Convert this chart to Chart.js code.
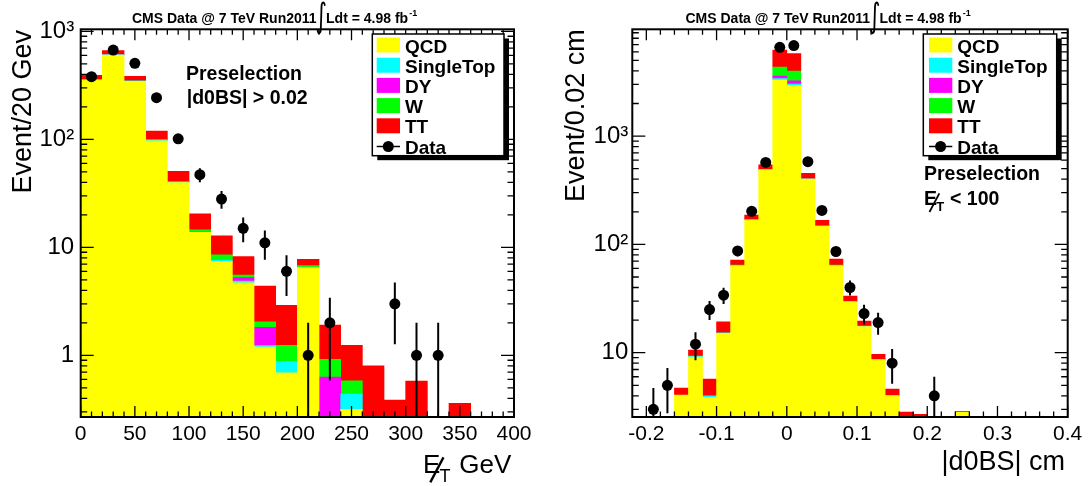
<!DOCTYPE html>
<html>
<head>
<meta charset="utf-8">
<title>CMS stacked histograms</title>
<script src="https://cdn.jsdelivr.net/npm/chart.js@4.4.1/dist/chart.umd.min.js"></script>
<style>
  html, body { margin:0; padding:0; background:#fff; }
  body { width:1089px; height:486px; position:relative; overflow:hidden; }
  canvas { position:absolute; top:0; }
  #left { left:0; }
  #right { left:544px; }
</style>
</head>
<body>
<canvas id="left" width="544" height="486"></canvas>
<canvas id="right" width="545" height="486"></canvas>
<script>
// ================= DATA =================
const seriesNames = ['QCD', 'SingleTop', 'DY', 'W', 'TT'];
const dataName = 'Data';

// ---- Left panel: missing ET, 20 GeV bins ----
const metCenters   = [10, 30, 50, 70, 90, 110, 130, 150, 170, 190, 210, 230, 250, 270, 290, 310, 330, 350, 370, 390];
const metQCD       = [354, 604, 344, 97, 39.7, 13.8, 7.37, 4.68, 1.19, 0.69, 6.5, 0, 0.316, 0, 0, 0, 0, 0, 0, 0];
const metSingleTop = [1.5, 2, 1.5, 1.2, 0.4, 0.15, 0.3, 0.2, 0.04, 0.19, 0, 0, 0.122, 0, 0, 0, 0, 0, 0, 0];
const metDY        = [1, 1.5, 1, 0.4, 0.3, 0.15, 0.05, 0.36, 0.59, 0, 0, 0.63, 0, 0, 0, 0, 0, 0, 0, 0];
const metW         = [1.5, 2.5, 2, 0.8, 0.4, 0.4, 0.78, 0.3, 0.22, 0.36, 0.27, 0.29, 0.144, 0, 0, 0, 0, 0, 0, 0];
const metTT        = [33, 52, 34.5, 19.6, 9.7, 5.9, 4.3, 2.66, 2.34, 1.66, 0.97, 0.99, 0.658, 0.8, 0.386, 0.578, 0, 0.36, 0, 0];
const metData      = [380, 670, 506, 243, 101, 47, 28, 15, 11, 6, 1, 2, 0, 0, 3, 1, 1, 0, 0, 0];
const metXTickValues = [0, 50, 100, 150, 200, 250, 300, 350, 400];
const metXTickLabels = ['0', '50', '100', '150', '200', '250', '300', '350', '400'];
const metYTickValues = [1, 10, 100, 1000];
const metYTickLabels = ['1', '10', '10\u00B2', '10\u00B3'];

// ---- Right panel: d0BS, 0.02 cm bins ----
const d0Centers   = [-0.21, -0.19, -0.17, -0.15, -0.13, -0.11, -0.09, -0.07, -0.05, -0.03, -0.01, 0.01, 0.03, 0.05, 0.07, 0.09, 0.11, 0.13, 0.15, 0.17, 0.19, 0.21, 0.23, 0.25, 0.27, 0.29, 0.31, 0.33, 0.35, 0.37, 0.39];
const d0QCD       = [0, 0, 0, 4.07, 9.1, 3.87, 15.1, 63.5, 168, 488, 3290, 2920, 400, 147, 63.5, 29.5, 17.4, 8.6, 4.0, 2.0, 2.0, 0, 0, 2.83, 0, 0, 0, 0, 0, 0, 0];
const d0SingleTop = [0, 0, 0, 0, 0.2, 0.13, 0.2, 0.5, 1, 2, 110, 100, 2, 1, 0.5, 0.3, 0.2, 0.07, 0.04, 0, 0, 0, 0, 0, 0, 0, 0, 0, 0, 0, 0];
const d0DY        = [0, 0, 0, 0, 0, 0, 0, 0.2, 0.5, 1, 180, 220, 1, 0.5, 0.2, 0, 0, 0, 0, 0, 0, 0, 0, 0, 0, 0, 0, 0, 0, 0, 0];
const d0W         = [0, 0, 0, 0, 0, 0, 0, 0.2, 0.5, 2, 750, 740, 1, 0.5, 0.3, 0, 0, 0, 0, 0, 0, 0, 0, 0, 0, 0, 0, 0, 0, 0, 0];
const d0TT        = [0, 0, 0, 0.65, 1.3, 1.72, 4.0, 7.2, 17, 50, 1890, 1810, 48, 18, 8.8, 3.5, 2.0, 1.0, 0.58, 0.83, 0.7, 0, 0, 0.05, 0, 0, 0, 0, 0, 0, 0];
const d0Data      = [0, 3, 5, 0, 12, 25, 34, 87, 202, 571, 6600, 6850, 580, 206, 86, 40, 23, 19, 8, 0, 0, 4, 0, 0, 0, 0, 0, 0, 0, 0, 0];
const d0XTickValues = [-0.2, -0.1, 0, 0.1, 0.2, 0.3, 0.4];
const d0XTickLabels = ['-0.2', '-0.1', '0', '0.1', '0.2', '0.3', '0.4'];
const d0YTickValues = [10, 100, 1000];
const d0YTickLabels = ['10', '10\u00B2', '10\u00B3'];

// ================= STYLE =================
const FONT = "'Liberation Sans', Arial, Helvetica, sans-serif";
const COLORS = ['#ffff00', '#00ffff', '#ff00ff', '#00ff00', '#ff0000'];

// ================= HELPERS =================
function linearTickList(kFrom, kTo, step, majorEvery) {
  const out = [];
  for (let k = kFrom; k <= kTo; k++) out.push({ v: k * step, major: k % majorEvery === 0 });
  return out;
}
function logTickList(min, max) {
  const out = [];
  for (let e = Math.floor(Math.log10(min)); e <= Math.ceil(Math.log10(max)); e++) {
    for (let m = 1; m <= 9; m++) {
      const v = m * Math.pow(10, e);
      if (v >= min && v <= max) out.push({ v, major: m === 1 });
    }
  }
  return out;
}

const errorBarPlugin = {
  id: 'errorBars',
  beforeDatasetDraw(chart, args) {
    const ds = chart.data.datasets[args.index];
    if (!ds.poissonErrors) return;
    const ctx = chart.ctx, a = chart.chartArea, ys = chart.scales.y;
    ctx.save();
    ctx.beginPath(); ctx.rect(a.left, a.top, a.right - a.left, a.bottom - a.top); ctx.clip();
    ctx.strokeStyle = '#000'; ctx.lineWidth = 2;
    args.meta.data.forEach((pt, i) => {
      const raw = ds.data[i];
      if (!raw || raw.y == null) return;
      const e = Math.sqrt(raw.y);
      const top = ys.getPixelForValue(raw.y + e);
      const lo = raw.y - e;
      const bot = lo > 0 ? ys.getPixelForValue(lo) : a.bottom;
      ctx.beginPath(); ctx.moveTo(pt.x, top); ctx.lineTo(pt.x, bot); ctx.stroke();
    });
    ctx.restore();
  }
};

function drawHeader(ctx, x0) {
  ctx.fillStyle = '#000'; ctx.textAlign = 'left'; ctx.textBaseline = 'alphabetic';
  ctx.font = `bold 14px ${FONT}`;
  const t1 = 'CMS Data @ 7 TeV Run2011';
  ctx.fillText(t1, x0, 23);
  const end1 = x0 + ctx.measureText(t1).width;
  ctx.save();
  ctx.translate(end1 - 1, 27);
  ctx.scale(0.65, 1);
  ctx.font = `normal 34px 'DejaVu Sans'`;
  ctx.fillText('\u222B', 0, 0);
  ctx.restore();
  const xl = end1 + 9.5;
  ctx.font = `bold 14px ${FONT}`;
  const t2 = 'Ldt = 4.98 fb';
  ctx.fillText(t2, xl, 23);
  const xs = xl + ctx.measureText(t2).width + 1;
  ctx.font = `bold 9px ${FONT}`;
  ctx.fillText('-1', xs, 15.5);
}

function drawSlashedE(ctx, x, base, size, weight, subSize) {
  ctx.font = `${weight} ${size}px ${FONT}`;
  ctx.fillText('E', x, base);
  const w = ctx.measureText('E').width;
  ctx.save();
  ctx.lineWidth = size * 0.09; ctx.strokeStyle = '#000';
  ctx.beginPath();
  ctx.moveTo(x + w * 0.42, base + size * 0.36);
  ctx.lineTo(x + w * 1.18, base - size * 0.6);
  ctx.stroke();
  ctx.restore();
  ctx.font = `${weight} ${subSize}px ${FONT}`;
  ctx.fillText('T', x + w * 0.95, base + size * 0.33);
}

function drawYTitle(ctx, text, xBase, yEnd, size) {
  ctx.save();
  ctx.translate(xBase, yEnd);
  ctx.rotate(-Math.PI / 2);
  ctx.font = `normal ${size}px ${FONT}`;
  ctx.textAlign = 'right'; ctx.textBaseline = 'alphabetic'; ctx.fillStyle = '#000';
  ctx.fillText(text, 0, 0);
  ctx.restore();
}

function drawLegend(ctx, chart, L) {
  ctx.fillStyle = '#000';
  ctx.fillRect(L.x + 5, L.y + 4.5, L.w, L.h);
  ctx.fillStyle = '#fff';
  ctx.fillRect(L.x, L.y, L.w, L.h);
  ctx.lineWidth = 1.5; ctx.strokeStyle = '#000';
  ctx.strokeRect(L.x, L.y, L.w, L.h);
  ctx.font = `bold 19px ${FONT}`; ctx.textAlign = 'left'; ctx.textBaseline = 'alphabetic';
  const dss = chart.data.datasets;
  dss.forEach((ds, i) => {
    const b = L.base0 + i * L.step;
    if (ds.type === 'bar') {
      ctx.fillStyle = ds.backgroundColor;
      ctx.fillRect(L.swX, b - 15, 23.3, 15);
    } else {
      ctx.strokeStyle = '#000'; ctx.lineWidth = 1.5;
      ctx.beginPath(); ctx.moveTo(L.swX, b - 7); ctx.lineTo(L.swX + 23.3, b - 7); ctx.stroke();
      ctx.fillStyle = '#000';
      ctx.beginPath(); ctx.arc(L.swX + 11.6, b - 7, 5.5, 0, Math.PI * 2); ctx.fill();
    }
    ctx.fillStyle = '#000';
    ctx.fillText(ds.label, L.textX, b);
  });
}

function decorPlugin(d) {
  return {
    id: 'rootDecor',
    afterDraw(chart) {
      const ctx = chart.ctx, a = chart.chartArea, xs = chart.scales.x, ys = chart.scales.y;
      ctx.save();
      // ticks on all four sides, pointing inwards
      ctx.strokeStyle = '#000'; ctx.lineWidth = 1.3;
      ctx.beginPath();
      d.xTicks.forEach(t => {
        const px = xs.getPixelForValue(t.v);
        const L = t.major ? 11 : 5.5;
        ctx.moveTo(px, a.bottom); ctx.lineTo(px, a.bottom - L);
        ctx.moveTo(px, a.top); ctx.lineTo(px, a.top + L);
      });
      d.yTicks.forEach(t => {
        const py = ys.getPixelForValue(t.v);
        const L = t.major ? 13 : 6.5;
        ctx.moveTo(a.left, py); ctx.lineTo(a.left + L, py);
        ctx.moveTo(a.right, py); ctx.lineTo(a.right - L, py);
      });
      ctx.stroke();
      ctx.lineWidth = 2;
      ctx.strokeRect(a.left, a.top, a.right - a.left, a.bottom - a.top);
      d.draw(ctx, chart);
      ctx.restore();
    }
  };
}

function buildChart(canvasId, p) {
  const datasets = p.stacks.map((vals, k) => ({
    type: 'bar',
    label: seriesNames[k],
    data: p.centers.map((x, i) => ({ x, y: vals[i] })),
    backgroundColor: COLORS[k],
    borderWidth: 0,
    barPercentage: 1,
    categoryPercentage: 1,
    stack: 'mc',
    order: 2
  }));
  datasets.push({
    type: 'scatter',
    label: dataName,
    data: p.centers.map((x, i) => ({ x, y: p.data[i] > 0 ? p.data[i] : null })),
    backgroundColor: '#000',
    borderColor: '#000',
    borderWidth: 0,
    pointRadius: 5.5,
    pointHoverRadius: 5.5,
    order: 1,
    poissonErrors: true
  });
  return new Chart(document.getElementById(canvasId), {
    type: 'bar',
    data: { datasets },
    options: {
      responsive: false,
      animation: false,
      devicePixelRatio: 1,
      layout: { padding: { left: 0, right: p.padRight, top: p.padTop, bottom: 0 } },
      plugins: { legend: { display: false }, tooltip: { enabled: false }, title: { display: false } },
      scales: {
        x: {
          type: 'linear', min: p.xMin, max: p.xMax, offset: false,
          grid: { display: false, drawTicks: false }, border: { display: false },
          ticks: {
            font: { family: FONT, size: 21 }, color: '#000', padding: 4.6,
            maxRotation: 0, minRotation: 0, autoSkip: false,
            callback: (v, i) => p.xTickLabels[i]
          },
          afterBuildTicks: s => { s.ticks = p.xTickValues.map(v => ({ value: v })); },
          afterFit: s => { s.height = p.xAxisHeight; }
        },
        y: {
          type: 'logarithmic', stacked: true, min: p.yMin, max: p.yMax,
          grid: { display: false, drawTicks: false }, border: { display: false },
          ticks: {
            font: { family: FONT, size: 24 }, color: '#000', padding: p.yPad, autoSkip: false,
            callback: (v, i) => p.yTickLabels[i]
          },
          afterBuildTicks: s => { s.ticks = p.yTickValues.map(v => ({ value: v })); },
          afterFit: s => { s.width = p.yAxisWidth; }
        }
      }
    },
    plugins: [errorBarPlugin, decorPlugin(p.decor)]
  });
}

// ================= LEFT CHART =================
buildChart('left', {
  centers: metCenters,
  stacks: [metQCD, metSingleTop, metDY, metW, metTT],
  data: metData,
  xMin: 0, xMax: 400, yMin: 0.2685, yMax: 1044,
  xTickValues: metXTickValues, xTickLabels: metXTickLabels,
  yTickValues: metYTickValues, yTickLabels: metYTickLabels,
  padRight: 30, padTop: 29.3, xAxisHeight: 69, yAxisWidth: 80.7, yPad: 6.5,
  decor: {
    xTicks: linearTickList(0, 40, 10, 5),
    yTicks: logTickList(0.2685, 1044),
    draw(ctx, chart) {
      drawHeader(ctx, 132);
      drawYTitle(ctx, 'Event/20 Gev', 31, 30, 27);
      ctx.fillStyle = '#000'; ctx.textAlign = 'left'; ctx.textBaseline = 'alphabetic';
      drawSlashedE(ctx, 423, 473, 26, 'normal', 18);
      ctx.font = `normal 26px ${FONT}`;
      ctx.fillText('GeV', 459.3, 473);
      ctx.font = `bold 19.5px ${FONT}`;
      ctx.fillText('Preselection', 186, 79.5);
      ctx.fillText('|d0BS| > 0.02', 186.7, 103.5);
      drawLegend(ctx, chart, { x: 372.3, y: 34, w: 131.7, h: 121.7, swX: 376.7, textX: 405, base0: 52.5, step: 20.2 });
    }
  }
});

// ================= RIGHT CHART =================
buildChart('right', {
  centers: d0Centers,
  stacks: [d0QCD, d0SingleTop, d0DY, d0W, d0TT],
  data: d0Data,
  xMin: -0.22, xMax: 0.40, yMin: 2.55, yMax: 9680,
  xTickValues: d0XTickValues, xTickLabels: d0XTickLabels,
  yTickValues: d0YTickValues, yTickLabels: d0YTickLabels,
  padRight: 21.3, padTop: 29.3, xAxisHeight: 69, yAxisWidth: 88.3, yPad: 4,
  decor: {
    xTicks: linearTickList(-10, 20, 0.02, 5),
    yTicks: logTickList(2.55, 9680),
    draw(ctx, chart) {
      drawHeader(ctx, 141.5);
      drawYTitle(ctx, 'Event/0.02 cm', 39.5, 29.3, 27);
      ctx.fillStyle = '#000'; ctx.textAlign = 'right'; ctx.textBaseline = 'alphabetic';
      ctx.font = `normal 27px ${FONT}`;
      ctx.fillText('|d0BS| cm', 521, 470);
      ctx.textAlign = 'left';
      drawLegend(ctx, chart, { x: 379.3, y: 34, w: 133.4, h: 121.7, swX: 385, textX: 413.3, base0: 52.5, step: 20.2 });
      ctx.fillStyle = '#000';
      ctx.font = `bold 19.5px ${FONT}`;
      ctx.fillText('Preselection', 380, 179.5);
      drawSlashedE(ctx, 380, 205, 19.5, 'bold', 13);
      ctx.font = `bold 19.5px ${FONT}`;
      ctx.fillText('< 100', 406, 205);
    }
  }
});
</script>
</body>
</html>
